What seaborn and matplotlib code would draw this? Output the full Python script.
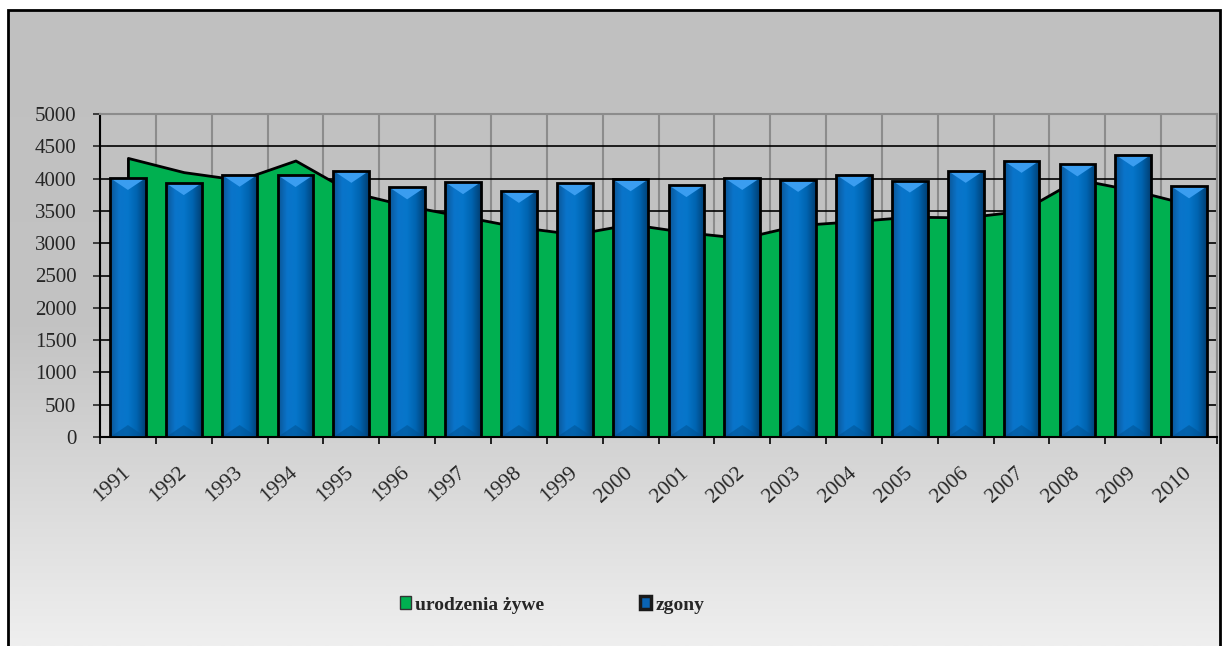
import numpy as np
import pandas as pd

import matplotlib
matplotlib.use("Agg")
import matplotlib.pyplot as plt
import seaborn as sns
from matplotlib.colors import LinearSegmentedColormap
from matplotlib.patches import Patch, Polygon, Rectangle

# ---------------------------------------------------------------------------
# Data
# ---------------------------------------------------------------------------
years = ["1991", "1992", "1993", "1994", "1995", "1996", "1997", "1998", "1999", "2000",
         "2001", "2002", "2003", "2004", "2005", "2006", "2007", "2008", "2009", "2010"]
births = [4320, 4100, 3980, 4280, 3790, 3580, 3415, 3250, 3140, 3295,
          3170, 3080, 3280, 3340, 3410, 3400, 3500, 3990, 3820, 3600]
deaths = [4010, 3930, 4060, 4055, 4120, 3865, 3945, 3810, 3925, 3990,
          3900, 4010, 3980, 4060, 3970, 4120, 4275, 4220, 4370, 3880]
y_ticks = [0, 500, 1000, 1500, 2000, 2500, 3000, 3500, 4000, 4500, 5000]

label_births = "urodzenia żywe"
label_deaths = "zgony"

GREEN = "#00b050"
BLUE = "#0070c0"

# ---------------------------------------------------------------------------
# Styling
# ---------------------------------------------------------------------------
sns.set_style("ticks")
plt.rcParams["font.family"] = ["Liberation Serif", "DejaVu Serif"]

W, H = 1223, 646
fig = plt.figure(figsize=(W / 100, H / 100), dpi=100)

# chart-area background: vertical grey gradient inside a black frame
bg = fig.add_axes([8 / W, 0, 1212 / W, 636 / H], zorder=-10)
bg_cmap = LinearSegmentedColormap.from_list("bg", ["#c0c0c0", "#c3c3c3", "#efefef"])
bg.imshow(np.linspace(0, 1, 256).reshape(-1, 1), aspect="auto", cmap=bg_cmap,
          extent=[0, 1, 0, 1])
bg.set_axis_off()
fig.add_artist(Rectangle((8 / W, -0.05), 1212 / W, 1.05 - 10 / H, transform=fig.transFigure,
                         fill=False, edgecolor="black", linewidth=2))

ax = fig.add_axes([100 / W, 1 - 437 / H, 1117 / W, 323 / H])
ax.patch.set_alpha(0)

df = pd.DataFrame({"rok": years, "urodzenia": births, "zgony": deaths})
xpos = np.arange(len(years))

# deaths: bars
sns.barplot(data=df, x="rok", y="zgony", color=BLUE, saturation=1, width=0.64,
            edgecolor="black", linewidth=2, ax=ax, zorder=3)

ax.set_ylim(y_ticks[0], y_ticks[-1])
ax.set_xlim(-0.5, len(years) - 0.5)

# bevel / shading on each bar
shade = LinearSegmentedColormap.from_list(
    "bar", ["#0b5596", "#0a74ca", "#0676ca", "#0064b0", "#003f74"])
px_to_data = (y_ticks[-1] - y_ticks[0]) / 323.0
for bar in list(ax.patches):
    x0, w, h = bar.get_x(), bar.get_width(), bar.get_height()
    im = ax.imshow(np.linspace(0, 1, 64).reshape(1, -1), extent=[x0, x0 + w, 0, h],
                   aspect="auto", cmap=shade, zorder=3.1)
    im.set_clip_path(bar)
    dy = 12 * px_to_data
    ax.add_patch(Polygon([(x0, h), (x0 + w, h), (x0 + w / 2, h - dy)], closed=True,
                         facecolor="#3a9df0", edgecolor="none", zorder=3.2))
    ax.add_patch(Polygon([(x0, 0), (x0 + w, 0), (x0 + w / 2, dy)], closed=True,
                         facecolor="#00508f", edgecolor="none", alpha=0.5, zorder=3.2))
    bar.set_facecolor("none")
    bar.set_zorder(3.5)

# births: area
ax.fill_between(xpos, df["urodzenia"], color=GREEN, edgecolor="black", linewidth=2, zorder=2)

ax.set_xlim(-0.5, len(years) - 0.5)
ax.set_ylim(y_ticks[0], y_ticks[-1])
ax.set_yticks(y_ticks)
ax.set_xticks(xpos)
ax.set_xticklabels(years, rotation=42, ha="right", va="center", rotation_mode="anchor")
ax.set_xticks(np.arange(len(years) + 1) - 0.5, minor=True)
ax.tick_params(axis="x", which="major", length=0, pad=24, labelsize=15.5)
ax.tick_params(axis="x", which="minor", length=10, direction="inout", width=1.2, color="black")
ax.tick_params(axis="y", length=10, direction="inout", width=1.2, pad=12, labelsize=15)
ax.set_xlabel("")
ax.set_ylabel("")

ax.set_axisbelow(True)
ax.grid(axis="y", color="black", linewidth=1.2)
ax.grid(axis="x", which="minor", color="#8c8c8c", linewidth=1.5)
for side in ("left", "bottom"):
    ax.spines[side].set_color("black")
    ax.spines[side].set_linewidth(1.5)
for side in ("top", "right"):
    ax.spines[side].set_visible(True)
    ax.spines[side].set_color("#8c8c8c")
    ax.spines[side].set_linewidth(1.5)

handles = [
    Patch(facecolor=GREEN, edgecolor="#333333", linewidth=1, label=label_births),
    Patch(facecolor="#0a64b4", edgecolor="#1a1a1a", linewidth=2.5, label=label_deaths),
]
fig.legend(handles=handles, loc="center", bbox_to_anchor=(552 / W, 1 - 605 / H), ncol=2,
           frameon=False, prop={"weight": "bold", "size": 14},
           handlelength=0.6, handleheight=0.6, handletextpad=0.2, columnspacing=4.9)

fig.savefig("out.png", dpi=100)
